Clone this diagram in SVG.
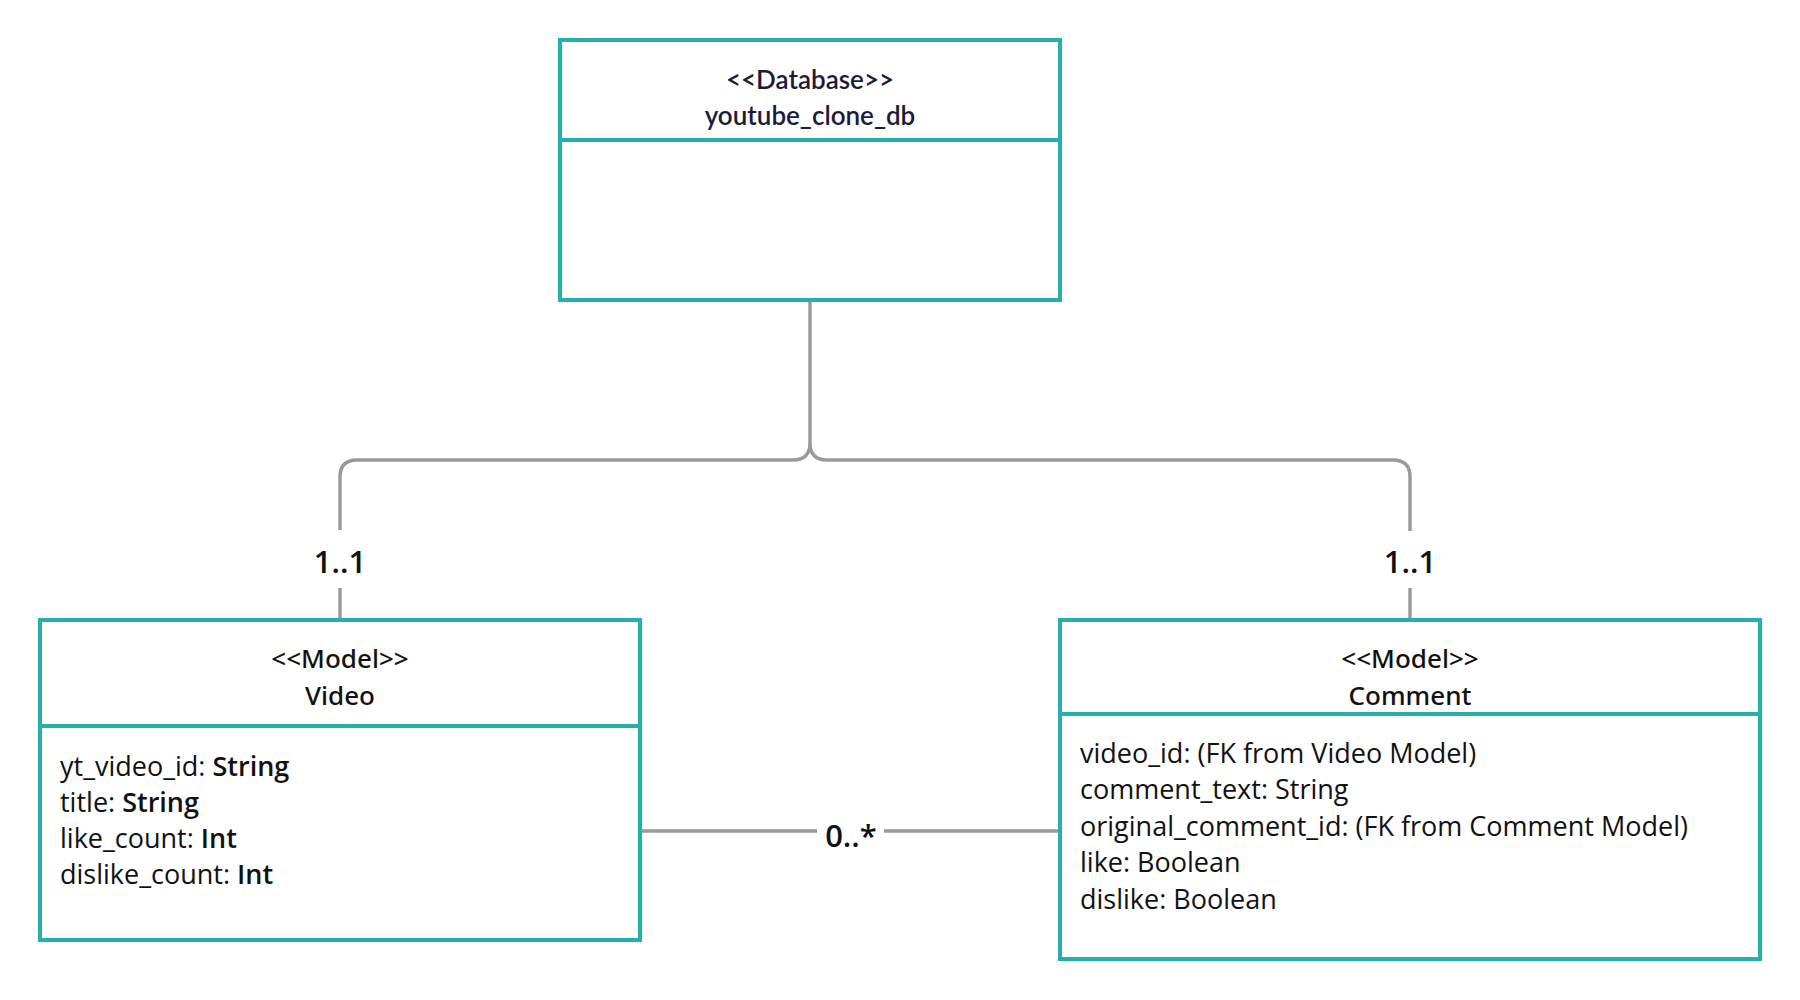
<svg xmlns="http://www.w3.org/2000/svg" width="1800" height="1000" viewBox="0 0 1800 1000">
<style>
.box{fill:#ffffff;stroke:#26b0ac;stroke-width:4}
.div{stroke:#26b0ac;stroke-width:4}
.conn{fill:none;stroke:#999999;stroke-width:3.4}
.hdr{font-family:"Noto Sans","Open Sans","Liberation Sans",sans-serif;font-size:26px;font-weight:500;fill:#111111;text-anchor:middle}
.dbh{font-family:Lato,"Open Sans","Liberation Sans",sans-serif;font-size:26px;font-weight:600;fill:#1c1c3a;text-anchor:middle}
.attr{font-family:"Open Sans","Noto Sans","Liberation Sans",sans-serif;font-size:27px;font-weight:400;fill:#111111}
.b{font-weight:600}
.mult{font-family:"Open Sans","Noto Sans","Liberation Sans",sans-serif;font-size:31px;font-weight:600;fill:#111111;text-anchor:middle}
</style>
<rect width="1800" height="1000" fill="#ffffff"/>
<g id="connectors">
<path class="conn" d="M810 300 V443 Q810 460 793 460 H357 Q340 460 340 477 V530"/>
<path class="conn" d="M340 588 V620"/>
<path class="conn" d="M810 443 Q810 460 827 460 H1393 Q1410 460 1410 477 V531"/>
<path class="conn" d="M1410 588 V620"/>
<path class="conn" d="M640 831 H817"/>
<path class="conn" d="M884 831 H1060"/>
<text class="mult" x="340" y="573">1..1</text>
<text class="mult" x="1410" y="573">1..1</text>
<text class="mult" x="851" y="847">0..*</text>
</g>
<g id="youtube_clone_db">
<rect class="box" x="560" y="40" width="500" height="260"/>
<line class="div" x1="560" y1="140" x2="1060" y2="140"/>
<text class="dbh" x="810" y="89">&lt;&lt;Database&gt;&gt;</text>
<text class="dbh" x="810" y="125">youtube_clone_db</text>
</g>
<g id="video">
<rect class="box" x="40" y="620" width="600" height="320"/>
<line class="div" x1="40" y1="726" x2="640" y2="726"/>
<text class="hdr" x="340" y="668">&lt;&lt;Model&gt;&gt;</text>
<text class="hdr" x="340" y="705">Video</text>
<text class="attr" x="60" y="776">yt_video_id: <tspan class="b">String</tspan></text>
<text class="attr" x="60" y="812">title: <tspan class="b">String</tspan></text>
<text class="attr" x="60" y="848">like_count: <tspan class="b">Int</tspan></text>
<text class="attr" x="60" y="884">dislike_count: <tspan class="b">Int</tspan></text>
</g>
<g id="comment">
<rect class="box" x="1060" y="620" width="700" height="339"/>
<line class="div" x1="1060" y1="714" x2="1760" y2="714"/>
<text class="hdr" x="1410" y="668">&lt;&lt;Model&gt;&gt;</text>
<text class="hdr" x="1410" y="705">Comment</text>
<text class="attr" x="1080" y="763">video_id: (FK from Video Model)</text>
<text class="attr" x="1080" y="799">comment_text: String</text>
<text class="attr" x="1080" y="836">original_comment_id: (FK from Comment Model)</text>
<text class="attr" x="1080" y="872">like: Boolean</text>
<text class="attr" x="1080" y="909">dislike: Boolean</text>
</g>
</svg>
